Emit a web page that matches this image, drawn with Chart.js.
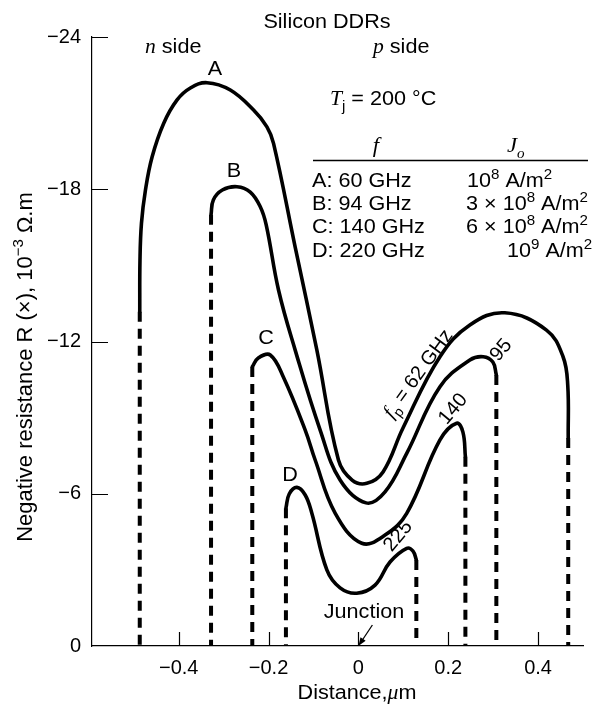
<!DOCTYPE html>
<html><head><meta charset="utf-8">
<script src="https://cdn.jsdelivr.net/npm/chart.js@4/dist/chart.umd.min.js"></script>
<style>html,body{margin:0;padding:0;background:#fff}#wrap{width:594px;height:705px}</style>
</head><body><div id="wrap"><canvas id="c" width="594" height="705"></canvas></div>
<script>
// ---- data (distance in µm, negative resistance in 10^-3 Ω·m) ----
const xTicks = [-0.4, -0.2, 0, 0.2, 0.4];
const xTickLabels = ['\u22120.4', '\u22120.2', '0', '0.2', '0.4'];
const yTicks = [-24, -18, -12, -6, 0];
const yTickLabels = ['\u221224', '\u221218', '\u221212', '\u22126', '0'];

const curveNames = ['A', 'B', 'C', 'D'];

const curveA_x = [-0.4867, -0.4862, -0.4829, -0.474, -0.4591, -0.4333, -0.4036, -0.374, -0.337, -0.2851, -0.2333, -0.2036, -0.1889, -0.1407, -0.0924, -0.0444, -0.014, 0.0187, 0.0549, 0.0993, 0.1816, 0.2482, 0.326, 0.4187, 0.4556, 0.466, 0.4671];
const curveA_y = [-13.17, -15.2, -16.66, -17.97, -19.28, -20.6, -21.52, -21.99, -22.2, -21.91, -21.12, -20.46, -19.81, -15.72, -11.66, -7.33, -6.54, -6.41, -6.86, -8.59, -11.4, -12.65, -13.13, -12.45, -11.4, -10.29, -8.2];

const curveB_x = [-0.328, -0.3229, -0.3029, -0.2702, -0.2407, -0.2184, -0.2051, -0.1778, -0.1407, -0.0851, -0.0407, 0.0171, 0.0593, 0.1076, 0.1816, 0.2482, 0.2778, 0.2993, 0.3071];
const curveB_y = [-17.0, -17.58, -17.97, -18.1, -17.89, -17.31, -16.59, -14.03, -11.66, -8.51, -6.54, -5.64, -6.07, -7.59, -10.22, -11.27, -11.4, -11.19, -10.68];

const curveC_x = [-0.2362, -0.2229, -0.1962, -0.1673, -0.1184, -0.0962, -0.0518, 0.0076, 0.0593, 0.1076, 0.1816, 0.2187, 0.2327, 0.2382];
const curveC_y = [-11.0, -11.35, -11.47, -10.61, -8.51, -7.33, -5.24, -4.05, -4.37, -5.23, -8.12, -8.78, -8.43, -7.46];

const curveD_x = [-0.1613, -0.154, -0.1369, -0.1184, -0.1036, -0.0702, -0.0407, -0.0036, 0.0371, 0.0704, 0.1076, 0.1216, 0.129];
const curveD_y = [-5.43, -5.99, -6.25, -5.95, -5.23, -3.0, -2.29, -2.08, -2.4, -3.31, -3.85, -3.74, -3.39];

const curvesX = [curveA_x, curveB_x, curveC_x, curveD_x];
const curvesY = [curveA_y, curveB_y, curveC_y, curveD_y];

// ---- build datasets ----
function pts(xs, ys) { return xs.map((x, i) => ({ x: x, y: ys[i] })); }
const datasets = [];
curvesX.forEach((xs, k) => {
  const ys = curvesY[k];
  datasets.push({
    label: curveNames[k], data: pts(xs, ys), borderColor: '#000', borderWidth: 3.6,
    pointRadius: 0, fill: false, tension: 0.4, borderCapStyle: 'round'
  });
  [0, xs.length - 1].forEach(i => {
    datasets.push({
      label: curveNames[k] + ' edge', data: [{ x: xs[i], y: ys[i] }, { x: xs[i], y: 0 }],
      borderColor: '#000', borderWidth: 4, pointRadius: 0, fill: false, tension: 0,
      borderDash: [10, 7], borderCapStyle: 'butt'
    });
  });
});

const SANS = '"Liberation Sans", Arial, Helvetica, sans-serif';
const SERIF = '"Liberation Serif", "Times New Roman", serif';
const SX = 1.08;

function drawRuns(ctx, runs, x, y, align, size, sx) {
  sx = sx || SX;
  let total = 0;
  const items = runs.map(r => {
    const s = (r.sup || r.sub) ? Math.round(size * 0.68) : size;
    const f = (r.it ? 'italic ' : '') + s + 'px ' + (r.serif ? SERIF : SANS);
    ctx.font = f;
    const w = ctx.measureText(r.t).width;
    total += w;
    return { t: r.t, f: f, w: w, dy: r.sup ? -size * 0.42 : (r.sub ? size * 0.28 : 0) };
  });
  const tw = total * sx;
  const x0 = align === 'center' ? x - tw / 2 : (align === 'right' ? x - tw : x);
  ctx.save();
  ctx.translate(x0, y);
  ctx.scale(sx, 1);
  ctx.textAlign = 'left';
  ctx.textBaseline = 'alphabetic';
  let cx = 0;
  items.forEach(it => { ctx.font = it.f; ctx.fillText(it.t, cx, it.dy); cx += it.w; });
  ctx.restore();
}
function rotRuns(ctx, runs, cx, cy, deg, size, sx) {
  ctx.save();
  ctx.translate(cx, cy);
  ctx.rotate(deg * Math.PI / 180);
  drawRuns(ctx, runs, 0, size * 0.36, 'center', size, sx);
  ctx.restore();
}

const annot = {
  id: 'annot',
  afterDraw(chart) {
    const ctx = chart.ctx, a = chart.chartArea;
    const xs = chart.scales.x, ys = chart.scales.y;
    ctx.save();
    ctx.strokeStyle = '#000';
    ctx.fillStyle = '#000';
    ctx.lineWidth = 1.2;
    // inward tick marks
    ctx.beginPath();
    yTicks.forEach(v => { if (v === 0) return; const p = Math.round(ys.getPixelForValue(v)) + 0.5; ctx.moveTo(a.left, p); ctx.lineTo(a.left + 16, p); });
    xTicks.forEach(v => { const p = Math.round(xs.getPixelForValue(v)) + 0.5; ctx.moveTo(p, a.bottom); ctx.lineTo(p, a.bottom - 14); });
    ctx.stroke();

    const S = 20;
    drawRuns(ctx, [{ t: 'Silicon DDRs' }], 327, 28, 'center', S);
    drawRuns(ctx, [{ t: 'n', it: true, serif: true }, { t: ' side' }], 145, 53, 'left', S);
    drawRuns(ctx, [{ t: 'p', it: true, serif: true }, { t: ' side' }], 373, 53, 'left', S);
    drawRuns(ctx, [{ t: 'A' }], 215, 75, 'center', S);
    drawRuns(ctx, [{ t: 'B' }], 234, 177, 'center', S);
    drawRuns(ctx, [{ t: 'C' }], 266, 344, 'center', S);
    drawRuns(ctx, [{ t: 'D' }], 290, 481, 'center', S);
    drawRuns(ctx, [{ t: 'T', it: true, serif: true }, { t: 'j', sub: true }, { t: ' = 200 \u00B0C' }], 330, 105, 'left', S);

    // table
    drawRuns(ctx, [{ t: 'f', it: true, serif: true }], 376, 152, 'center', S + 1);
    drawRuns(ctx, [{ t: 'J', it: true, serif: true }, { t: 'o', it: true, serif: true, sub: true }], 507, 152, 'left', S + 1);
    ctx.lineWidth = 1.5;
    ctx.beginPath(); ctx.moveTo(313, 160.5); ctx.lineTo(588, 160.5); ctx.stroke();
    const rowsY = [187, 210, 233, 257];
    const leftCol = ['A: 60 GHz', 'B: 94 GHz', 'C: 140 GHz', 'D: 220 GHz'];
    leftCol.forEach((t, i) => drawRuns(ctx, [{ t: t }], 312, rowsY[i], 'left', S));
    drawRuns(ctx, [{ t: '10' }, { t: '8', sup: true }, { t: ' A/m' }, { t: '2', sup: true }], 467, rowsY[0], 'left', S);
    drawRuns(ctx, [{ t: '3 \u00D7 10' }, { t: '8', sup: true }, { t: ' A/m' }, { t: '2', sup: true }], 466, rowsY[1], 'left', S);
    drawRuns(ctx, [{ t: '6 \u00D7 10' }, { t: '8', sup: true }, { t: ' A/m' }, { t: '2', sup: true }], 466, rowsY[2], 'left', S);
    drawRuns(ctx, [{ t: '10' }, { t: '9', sup: true }, { t: ' A/m' }, { t: '2', sup: true }], 507, rowsY[3], 'left', S);

    // rotated curve labels
    rotRuns(ctx, [{ t: 'f', it: true, serif: true }, { t: 'p', sub: true }, { t: ' = 62 GHz' }], 417, 373, -54, S, 1.0);
    rotRuns(ctx, [{ t: '95' }], 500, 349, -50, S, 1.0);
    rotRuns(ctx, [{ t: '140' }], 452, 408, -50, S, 1.0);
    rotRuns(ctx, [{ t: '225' }], 397, 535, -50, S, 1.0);

    // junction
    drawRuns(ctx, [{ t: 'Junction' }], 364, 618, 'center', S);
    const jx = xs.getPixelForValue(0), jy = ys.getPixelForValue(0);
    const sx = jx + 14, sy = jy - 21;
    ctx.lineWidth = 1.3;
    ctx.beginPath(); ctx.moveTo(sx, sy); ctx.lineTo(jx + 2, jy - 3); ctx.stroke();
    const ang = Math.atan2(jy - sy, jx - sx);
    ctx.beginPath();
    ctx.moveTo(jx, jy);
    ctx.lineTo(jx - 9 * Math.cos(ang - 0.35), jy - 9 * Math.sin(ang - 0.35));
    ctx.lineTo(jx - 9 * Math.cos(ang + 0.35), jy - 9 * Math.sin(ang + 0.35));
    ctx.closePath(); ctx.fill();

    // axis titles
    drawRuns(ctx, [{ t: 'Distance,' }, { t: '\u03BC', it: true, serif: true }, { t: 'm' }], 357, 699, 'center', S);
    ctx.save();
    ctx.translate(24, 367);
    ctx.rotate(-Math.PI / 2);
    drawRuns(ctx, [{ t: 'Negative resistance R (\u00D7), 10' }, { t: '\u22123', sup: true }, { t: ' \u03A9.m' }], 0, 8, 'center', 22, 1.0);
    ctx.restore();
    ctx.restore();
  }
};

new Chart(document.getElementById('c'), {
  type: 'line',
  data: { datasets: datasets },
  options: {
    responsive: false, animation: false, devicePixelRatio: 1,
    layout: { padding: { top: 37, right: 11, left: 0, bottom: 0 } },
    plugins: { legend: { display: false }, tooltip: { enabled: false }, title: { display: false } },
    scales: {
      x: {
        type: 'linear', min: -0.593, max: 0.5,
        afterBuildTicks: s => { s.ticks = xTicks.map(v => ({ value: v })); },
        afterFit: s => { s.height = 59; },
        ticks: { callback: v => xTickLabels[xTicks.indexOf(v)], color: '#000', font: { family: SANS, size: 20 }, padding: 10, maxRotation: 0, autoSkip: false },
        grid: { display: false, drawTicks: false },
        border: { display: true, color: '#000', width: 1.2 }
      },
      y: {
        type: 'linear', min: -24, max: 0, reverse: true,
        afterBuildTicks: s => { s.ticks = yTicks.map(v => ({ value: v })); },
        afterFit: s => { s.width = 92; },
        ticks: { callback: v => yTickLabels[yTicks.indexOf(v)], color: '#000', font: { family: SANS, size: 20 }, padding: 11, autoSkip: false },
        grid: { display: false, drawTicks: false },
        border: { display: true, color: '#000', width: 1.2 }
      }
    }
  },
  plugins: [annot]
});
</script>
</body></html>
